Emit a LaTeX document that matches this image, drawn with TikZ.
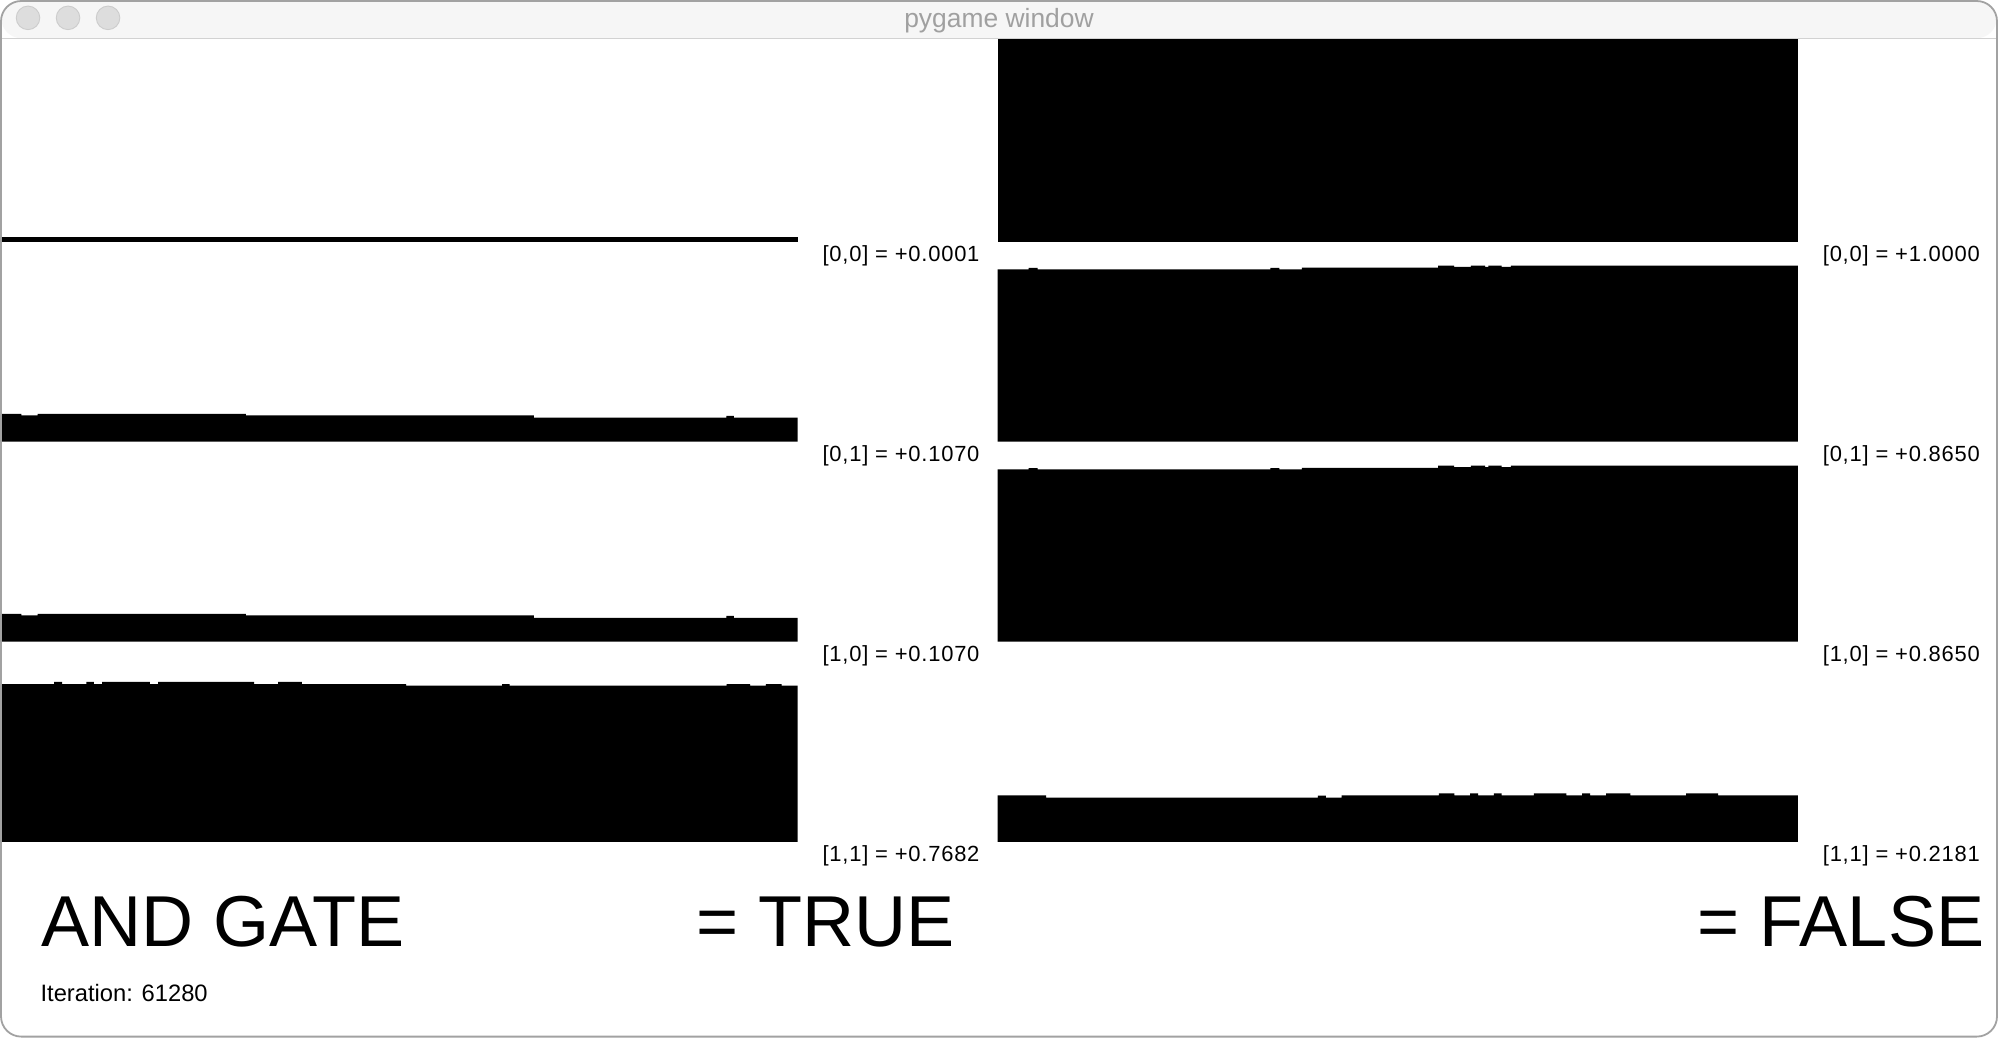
\documentclass[tikz,border=0pt]{standalone}
\usepackage{fontspec}
\setmainfont{Liberation Sans}
\newfontfamily\labelfont[LetterSpace=3.5]{Liberation Sans}
\usepackage{tikz}
\usetikzlibrary{calc}

\definecolor{framegray}{HTML}{A2A2A2}
\definecolor{barbg}{HTML}{F6F6F6}
\definecolor{barline}{HTML}{D2D2D2}
\definecolor{dotfill}{HTML}{DDDDDD}
\definecolor{dotline}{HTML}{CCCCCC}
\definecolor{titlegray}{HTML}{A0A0A0}

\tikzset{
    bar/.style={fill=black},
    vallabel/.style={anchor=base east, inner sep=0pt, font=\labelfont\fontsize{9.8}{12}\selectfont},
    bigtext/.style={inner sep=0pt, font=\fontsize{32.2}{38}\selectfont},
    winbutton/.style={circle, draw=dotline, fill=dotfill, minimum size=0.37cm, inner sep=0pt}
}

\begin{document}
\begin{tikzpicture}[x=0.02cm, y=-0.02cm]
        \def\w{1568}
        \def\hh{815}
        \def\lb{626}   % right end of left panel
        \def\ra{783}   % left end of right panel
        \def\rb{1411}  % right end of right panel

        \useasboundingbox (0,0) rectangle (\w,\hh);
        \fill[white] (0,0) rectangle (\w,\hh);

        % Title bar
        \fill[barbg, rounded corners=9] (1,30) -- (1,1) -- (\w-1,1) -- (\w-1,30) -- cycle;
        \draw[barline] (1,30) -- (\w-1,30);
        \node[winbutton] (close) at (22,14) {};
        \node[winbutton] (mini) at (53.4,14) {};
        \node[winbutton] (zoom) at (84.8,14) {};
        \node[text=titlegray, font=\fontsize{11.8}{14}\selectfont] (title) at (784,16) {pygame window};

        % Left panel: true rows
        \fill[bar] (0,186.3) rectangle (\lb,189.6);
        \foreach \dy in {0,157} {
            \fill[bar, shift={(0,\dy)}] (0,346.6) |- (16.8,324.7) |- (29.6,326.0) |- (193,324.7)
                |- (419,326.0) |- (570,327.8) |- (576,326.3) |- (\lb,327.8) -- (\lb,346.6) -- cycle;
        }
        \fill[bar] (0,660.6) |- (42.4,536.8) |- (48.8,535.2) |- (67.7,536.8) |- (73.7,535.2)
            |- (80.1,536.8) |- (117.7,535.2) |- (124.1,536.8) |- (199.4,535.2) |- (218.2,536.8)
            |- (237,535.2) |- (318.7,536.8) |- (394,538.1) |- (400,536.8) |- (570.2,538.1)
            |- (588.6,536.8) |- (601,538.1) |- (613.4,536.8) |- (\lb,538.1) -- (\lb,660.6) -- cycle;

        % Right panel: false rows
        \fill[bar] (\ra,30.5) rectangle (\rb,189.6);
        \foreach \dy in {0,157} {
            \fill[bar, shift={(0,\dy)}] (\ra,346.6) |- (807.3,211.4) |- (814.3,210.3) |- (996.9,211.4)
                |- (1004,210.3) |- (1021.7,211.4) |- (1128.6,210.1) |- (1141.2,208.5) |- (1154.3,209.5)
                |- (1165.4,208.5) |- (1168,209.5) |- (1178.5,208.5) |- (1185.6,209.5) |- (\rb,208.5)
                -- (\rb,346.6) -- cycle;
        }
        \fill[bar] (\ra,660.6) |- (820.9,624.2) |- (1034.3,626.0) |- (1040.5,624.4) |- (1052.8,626.0)
            |- (1129.1,624.2) |- (1141.4,622.6) |- (1153.7,624.2) |- (1160,622.6) |- (1172.3,624.2)
            |- (1178.4,622.6) |- (1203.8,624.2) |- (1229.3,622.6) |- (1241.6,624.2) |- (1247.8,622.6)
            |- (1260.5,624.2) |- (1279.4,622.6) |- (1323.3,624.2) |- (1348.3,622.6) |- (\rb,624.2)
            -- (\rb,660.6) -- cycle;

        % Values
        \node[vallabel] (t00) at (769,205) {[0,0] = +0.0001};
        \node[vallabel] (t01) at (769,362) {[0,1] = +0.1070};
        \node[vallabel] (t10) at (769,519) {[1,0] = +0.1070};
        \node[vallabel] (t11) at (769,676) {[1,1] = +0.7682};
        \node[vallabel] (f00) at (1554,205) {[0,0] = +1.0000};
        \node[vallabel] (f01) at (1554,362) {[0,1] = +0.8650};
        \node[vallabel] (f10) at (1554,519) {[1,0] = +0.8650};
        \node[vallabel] (f11) at (1554,676) {[1,1] = +0.2181};

        % Results
        \node[bigtext, anchor=base west] (gate) at (32,743) {AND GATE};
        \node[bigtext, anchor=base east] (truth) at (749.5,743) {= TRUE};
        \node[bigtext, anchor=base east] (falsity) at (1557.5,743) {= FALSE};
        \node[anchor=base west, inner sep=0pt, font=\fontsize{10.6}{13}\selectfont] (iter) at (31.5,786) {Iteration: 61280};

        % Window frame
        \draw[framegray, line width=0.8pt, rounded corners=9] (0.8,0.8) rectangle (\w-0.8,\hh-1.5);
    \end{tikzpicture}
\end{document}
